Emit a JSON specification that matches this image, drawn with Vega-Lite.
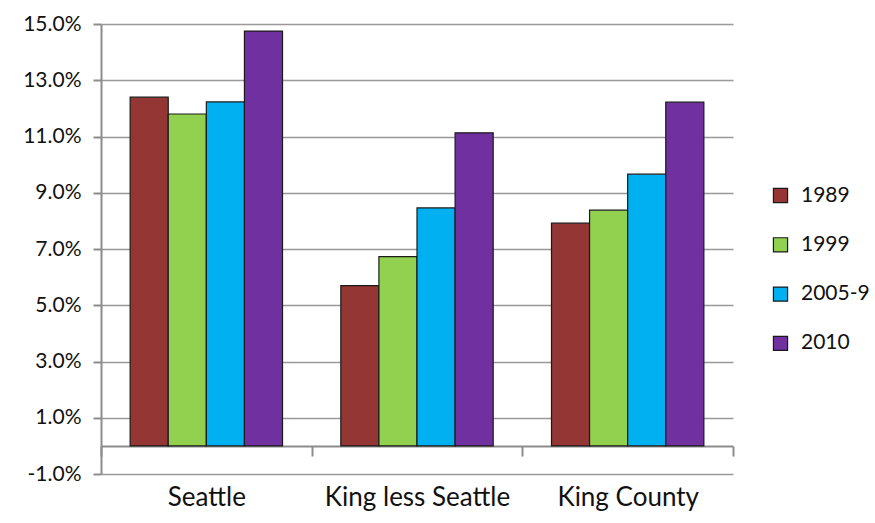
{
  "$schema": "https://vega.github.io/schema/vega-lite/v6.json",
  "width": 632,
  "height": 450,
  "autosize": "none",
  "padding": {"left": 101, "top": 24, "right": 142, "bottom": 49},
  "background": "white",
  "config": {
    "view": {"stroke": null},
    "font": "Lato",
    "axis": {"labelColor": "#111111", "labelFont": "Lato"}
  },
  "data": {
    "values": [
      {"Area": "Seattle", "Year": "1989", "Rate": 0.124},
      {"Area": "Seattle", "Year": "1999", "Rate": 0.118},
      {"Area": "Seattle", "Year": "2005-9", "Rate": 0.1223},
      {"Area": "Seattle", "Year": "2010", "Rate": 0.1475},
      {"Area": "King less Seattle", "Year": "1989", "Rate": 0.057},
      {"Area": "King less Seattle", "Year": "1999", "Rate": 0.0673},
      {"Area": "King less Seattle", "Year": "2005-9", "Rate": 0.0846},
      {"Area": "King less Seattle", "Year": "2010", "Rate": 0.1113},
      {"Area": "King County", "Year": "1989", "Rate": 0.0792},
      {"Area": "King County", "Year": "1999", "Rate": 0.0838},
      {"Area": "King County", "Year": "2005-9", "Rate": 0.0966},
      {"Area": "King County", "Year": "2010", "Rate": 0.1222}
    ]
  },
  "mark": {"type": "bar", "stroke": "#1a1a1a", "strokeWidth": 1.2},
  "encoding": {
    "x": {
      "field": "Area",
      "type": "nominal",
      "sort": ["Seattle", "King less Seattle", "King County"],
      "scale": {"paddingInner": 0, "paddingOuter": 0},
      "axis": {
        "title": null,
        "offset": -28,
        "domainColor": "#8c8c8c",
        "domainWidth": 2,
        "tickBand": "extent",
        "tickColor": "#8c8c8c",
        "tickWidth": 2,
        "tickSize": 10,
        "labelAngle": 0,
        "labelFontSize": 26,
        "labelLimit": 0,
        "labelBaseline": "alphabetic",
        "labelPadding": 49
      }
    },
    "xOffset": {
      "field": "Year",
      "type": "nominal",
      "sort": ["1989", "1999", "2005-9", "2010"],
      "scale": {"paddingInner": 0, "paddingOuter": 0.765}
    },
    "y": {
      "field": "Rate",
      "type": "quantitative",
      "scale": {"domain": [-0.01, 0.15], "nice": false, "zero": false},
      "axis": {
        "title": null,
        "values": [-0.01, 0.01, 0.03, 0.05, 0.07, 0.09, 0.11, 0.13, 0.15],
        "format": ".1%",
        "labelExpr": "replace(datum.label, '−', '-')",
        "domainColor": "#8c8c8c",
        "domainWidth": 2,
        "tickColor": "#8c8c8c",
        "tickWidth": 2,
        "tickSize": 8,
        "gridColor": "#999999",
        "gridWidth": 1.6,
        "gridOpacity": 1,
        "labelFontSize": 21,
        "labelPadding": 12
      }
    },
    "y2": {"datum": 0},
    "color": {
      "field": "Year",
      "type": "nominal",
      "sort": ["1989", "1999", "2005-9", "2010"],
      "scale": {
        "domain": ["1989", "1999", "2005-9", "2010"],
        "range": ["#943634", "#92D050", "#00B0F0", "#7030A0"]
      },
      "legend": {
        "title": null,
        "orient": "none",
        "legendX": 669,
        "legendY": 161,
        "symbolType": "square",
        "symbolSize": 200,
        "symbolStrokeColor": "#1a1a1a",
        "symbolStrokeWidth": 1.2,
        "symbolOpacity": 1,
        "labelFontSize": 21,
        "labelColor": "#111111",
        "labelOffset": 10,
        "rowPadding": 27.3,
        "padding": 0
      }
    }
  }
}
